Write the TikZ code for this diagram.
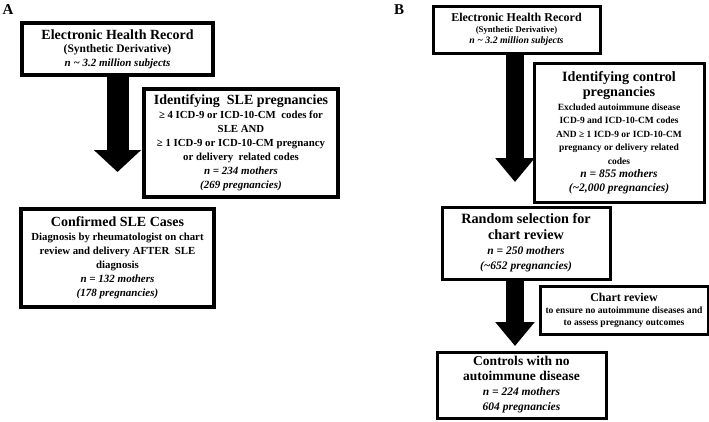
\documentclass[tikz,border=0pt]{standalone}
\usepackage{fontspec}
\setmainfont{Liberation Serif}
\usetikzlibrary{arrows.meta}
\newcommand\hdA{\fontsize{14}{16}\selectfont\bfseries\upshape}
\newcommand\sbA{\fontsize{11.5}{14}\selectfont\bfseries\upshape}
\newcommand\itA{\fontsize{11}{14}\selectfont\bfseries\itshape}
\newcommand\bdA{\fontsize{10.8}{14}\selectfont\bfseries\upshape}
\newcommand\hdB{\fontsize{12}{13}\selectfont\bfseries\upshape}
\newcommand\sbB{\fontsize{8.7}{11}\selectfont\bfseries\upshape}
\newcommand\itB{\fontsize{9.8}{11}\selectfont\bfseries\itshape}
\newcommand\hdC{\fontsize{14.2}{17}\selectfont\bfseries\upshape}
\newcommand\itC{\fontsize{11.5}{15}\selectfont\bfseries\itshape}
\newcommand\sbC{\fontsize{9.5}{13.5}\selectfont\bfseries\upshape}
\newcommand\hdD{\fontsize{12}{13}\selectfont\bfseries\upshape}
\newcommand\sbD{\fontsize{9.6}{12}\selectfont\bfseries\upshape}
\newcommand\hdE{\fontsize{13.5}{15}\selectfont\bfseries\upshape}
\begin{document}
\begin{tikzpicture}[x=1pt,y=-1pt,
  boxA/.style={draw=black, line width=4pt, fill=white, align=center, inner sep=0pt},
  boxB/.style={draw=black, line width=3pt, fill=white, align=center, inner sep=0pt},
  blkA/.style={line width=22pt, -{Triangle[length=22pt,width=46pt]}},
  blkB/.style={line width=18pt, -{Triangle[length=24pt,width=38pt]}},
  lbl/.style={font=\fontsize{15}{16}\selectfont\bfseries, inner sep=0pt}]
\useasboundingbox (0,0) rectangle (709,421);

% Panel A
\node[lbl] (labA) at (8,10) {A};
\node[boxA, minimum width=191pt, minimum height=52pt, font=\sbA] (ehrA) at (117.5,49)
  {{\hdA Electronic Health Record}\\[-1pt]
   (Synthetic Derivative)\\
   {\itA n \textasciitilde\ 3.2 million subjects}};
\node[boxA, minimum width=194pt, minimum height=108pt, font=\bdA] (sle) at (241,143)
  {{\hdA Identifying\ \ SLE pregnancies}\\
   ≥ 4 ICD-9 or ICD-10-CM\ \ codes for\\
   SLE AND\\
   ≥ 1 ICD-9 or ICD-10-CM pregnancy\\
   or delivery\ \ related codes\\
   {\itA n = 234 mothers}\\
   {\itA (269 pregnancies)}};
\node[boxA, minimum width=193pt, minimum height=98pt, font=\bdA] (conf) at (117.5,258)
  {{\hdA Confirmed SLE Cases}\\
   Diagnosis by rheumatologist on chart\\
   review and delivery AFTER\ \ SLE\\
   diagnosis\\
   {\itA n = 132 mothers}\\
   {\itA (178 pregnancies)}};
\coordinate (tipA) at (117.5,172);
\draw[blkA] (ehrA.south) -- (ehrA.south |- tipA);

% Panel B
\node[lbl] (labB) at (399,10) {B};
\node[boxB, minimum width=167pt, minimum height=47pt, font=\sbB] (ehrB) at (516.5,29.5)
  {{\hdB Electronic Health Record}\\
   (Synthetic Derivative)\\
   {\itB n \textasciitilde\ 3.2 million subjects}};
\node[boxB, minimum width=170pt, minimum height=139pt, font=\sbC] (ctrl) at (619,132.5)
  {{\hdC Identifying control}\\[2pt]
   {\hdC pregnancies}\\
   Excluded autoimmune\ disease\\
   ICD-9 and ICD-10-CM codes\\
   AND ≥ 1 ICD-9 or ICD-10-CM\\
   pregnancy or delivery related\\
   codes\\
   {\itC n = 855 mothers}\\
   {\itC (\textasciitilde 2,000 pregnancies)}};
\coordinate (tipB1) at (515,182);
\draw[blkB] (ehrB.south -| tipB1) -- (tipB1);
\node[boxB, minimum width=168pt, minimum height=72pt, font=\itC] (rand) at (526,243)
  {{\hdC Random selection for}\\[1pt]
   {\hdC chart review}\\
   n = 250 mothers\\
   (\textasciitilde 652 pregnancies)};
\coordinate (tipB2) at (515,346);
\draw[blkB] (rand.south -| tipB2) -- (tipB2);
\node[boxB, minimum width=168pt, minimum height=48pt, font=\sbD] (chart) at (624,310)
  {{\hdD Chart review}\\
   to ensure no autoimmune\ diseases and\\
   to assess pregnancy\ outcomes};
\node[boxB, minimum width=169pt, minimum height=66pt, font=\itC] (cont) at (521.5,385)
  {{\hdE Controls with no}\\
   {\hdE autoimmune disease}\\
   n = 224 mothers\\
   604 pregnancies};
\end{tikzpicture}
\end{document}
